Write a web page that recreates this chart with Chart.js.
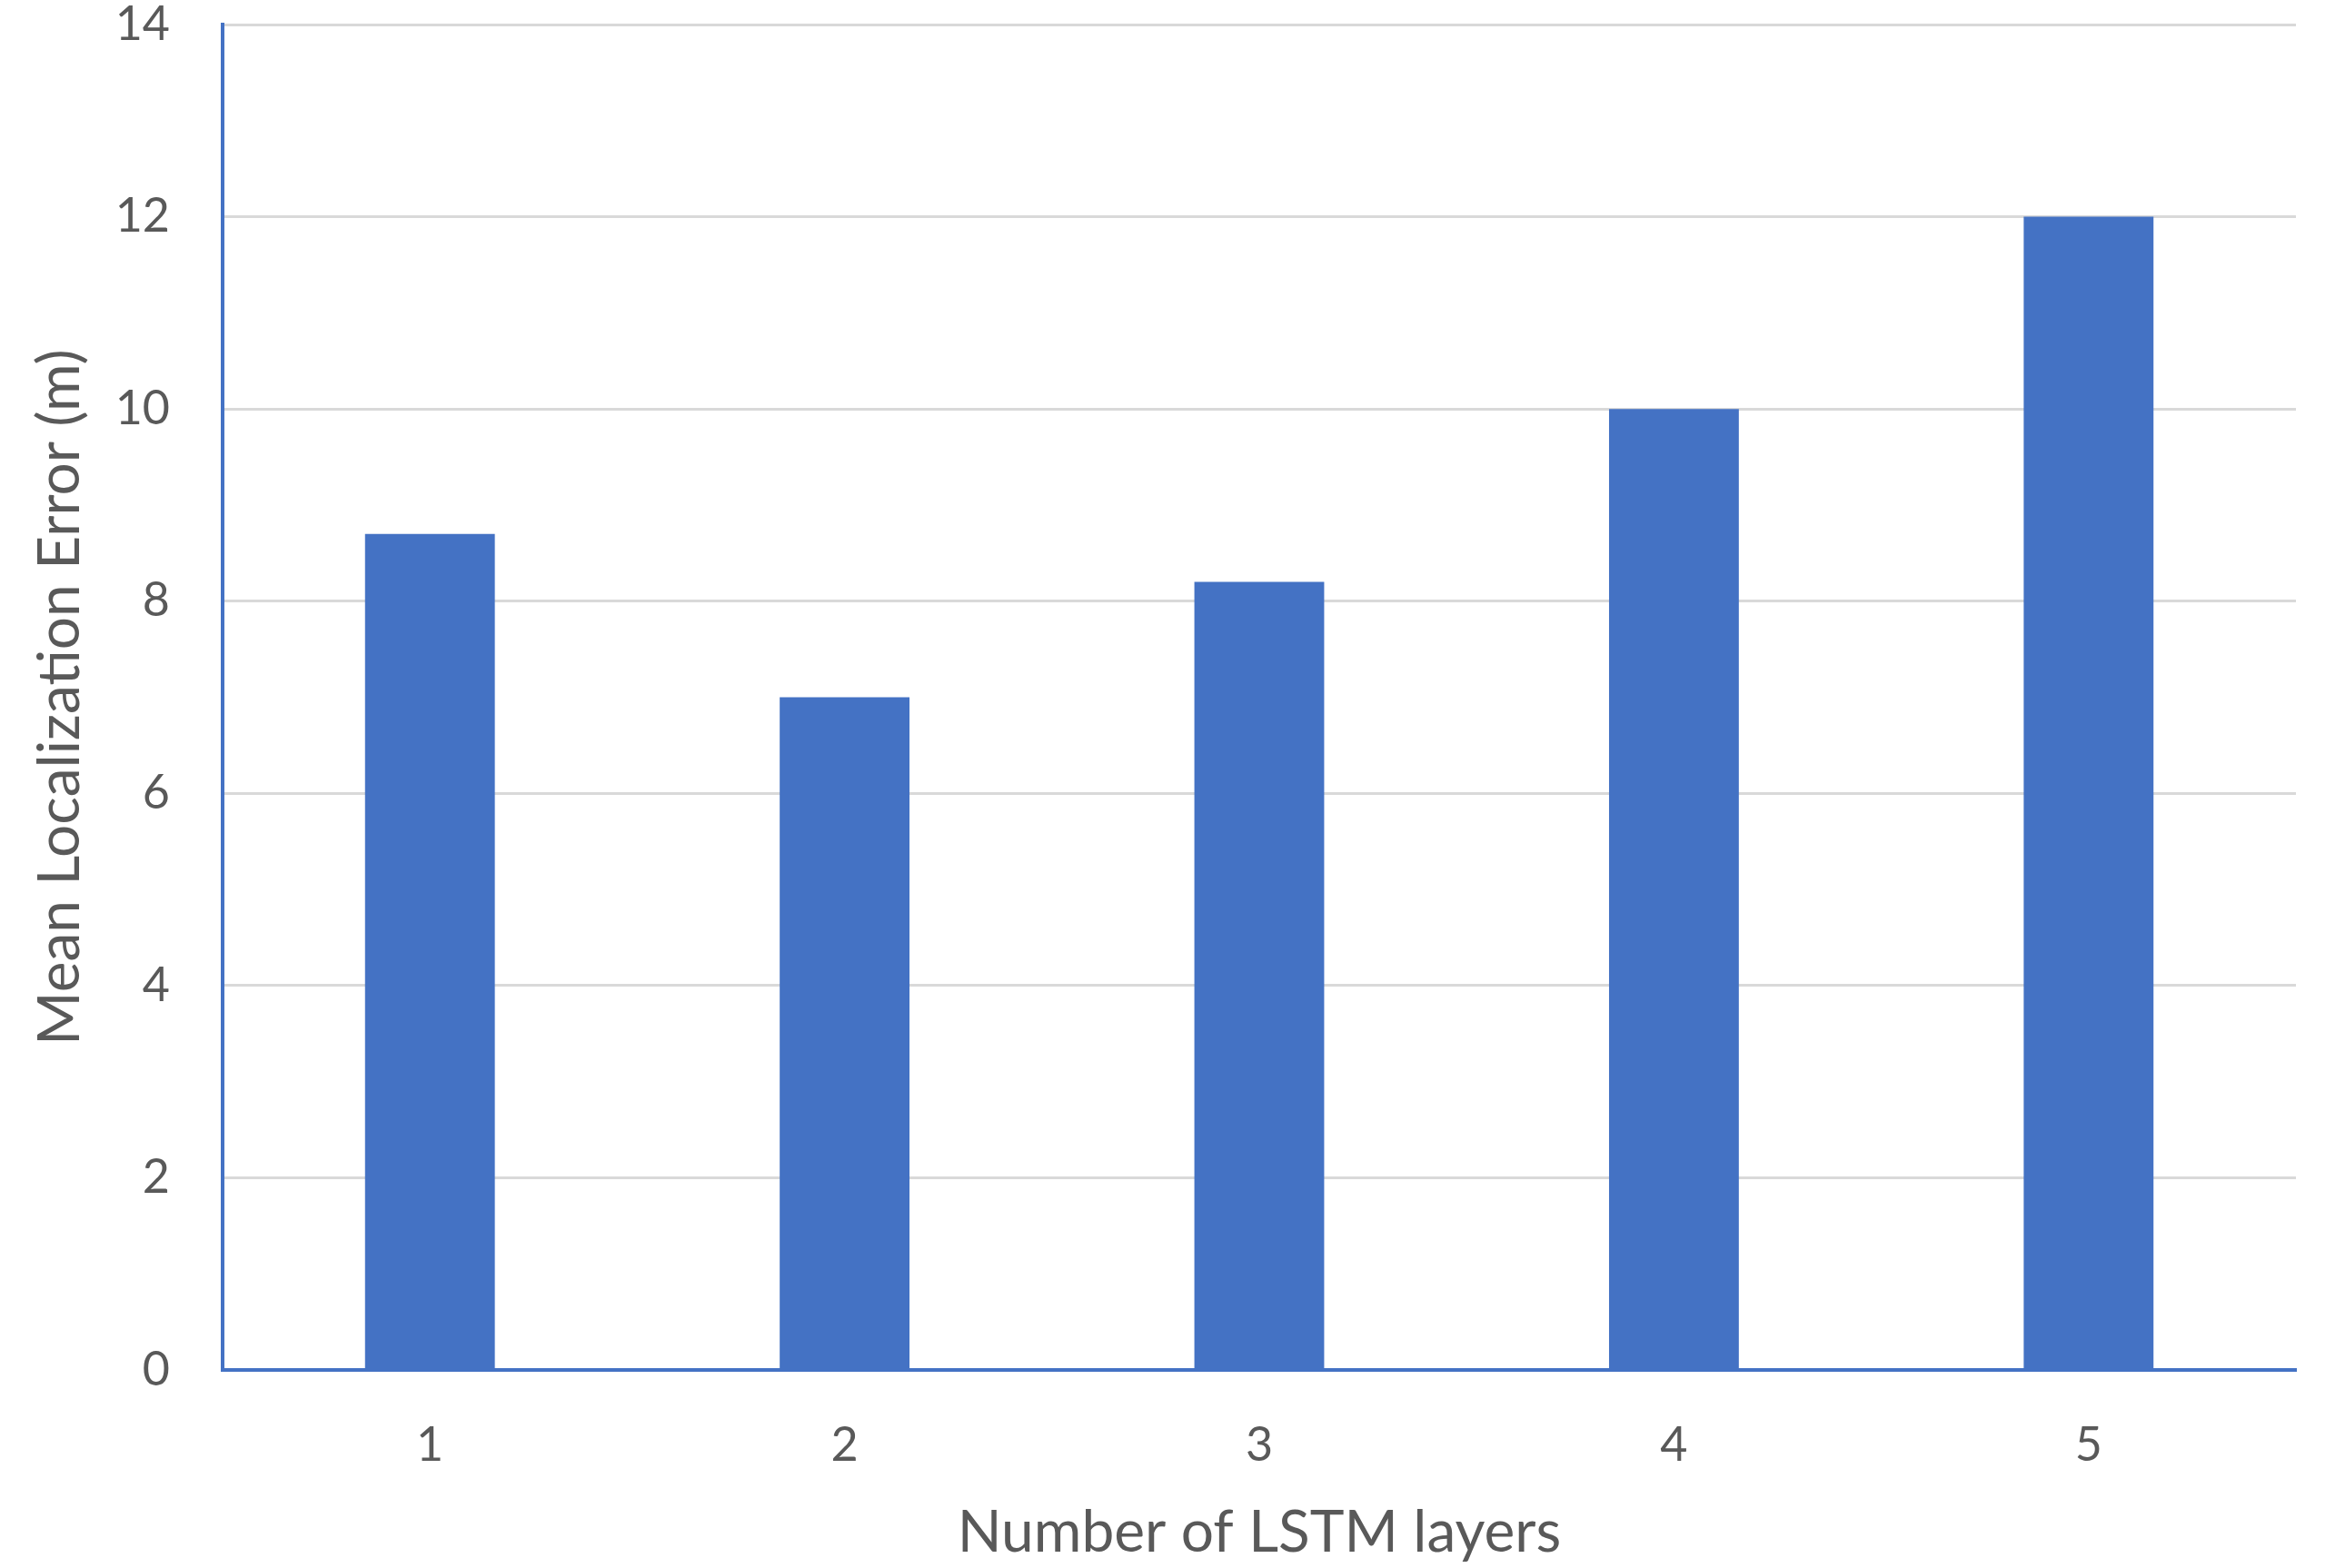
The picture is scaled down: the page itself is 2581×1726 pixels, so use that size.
<!DOCTYPE html>
<html>
<head>
<meta charset="utf-8">
<script src="https://cdn.jsdelivr.net/npm/chart.js@4.4.1/dist/chart.umd.min.js"></script>
<style>
  html, body { margin: 0; padding: 0; background: #ffffff; }
  #wrap { width: 2581px; height: 1726px; position: relative; }
</style>
</head>
<body>
<div id="wrap"><canvas id="c" width="2581" height="1726"></canvas></div>
<script>
const categories = ['1', '2', '3', '4', '5'];
const errorValues = [8.7, 7.0, 8.2, 10.0, 12.0];
const yTicks = [0, 2, 4, 6, 8, 10, 12, 14];
const xTitle = 'Number of LSTM layers';
const yTitle = 'Mean Localization Error (m)';

const FONT = "Lato, 'Open Sans', sans-serif";
const TEXT = '#595959';
const BLUE = '#4472C4';

new Chart(document.getElementById('c'), {
  type: 'bar',
  data: {
    labels: categories,
    datasets: [{
      data: errorValues,
      backgroundColor: BLUE,
      borderWidth: 0,
      categoryPercentage: 1.0,
      barPercentage: 0.313
    }]
  },
  options: {
    responsive: false,
    animation: false,
    devicePixelRatio: 1,
    layout: { padding: { top: 27, right: 54, left: 0, bottom: 0 } },
    plugins: { legend: { display: false }, tooltip: { enabled: false } },
    scales: {
      x: {
        grid: { display: false, drawTicks: false },
        border: { display: true, color: BLUE, width: 4 },
        ticks: { color: TEXT, font: { family: FONT, size: 52 }, padding: 52 },
        title: { display: true, text: xTitle, color: TEXT, font: { family: FONT, size: 64 }, padding: { top: 0, bottom: 0 } },
        afterFit: s => { s.height = 218; s.paddingLeft = 0; s.paddingRight = 0; }
      },
      y: {
        min: 0, max: 14,
        afterBuildTicks: s => { s.ticks = yTicks.map(v => ({ value: v })); },
        grid: { color: '#d9d9d9', lineWidth: 3, drawTicks: false },
        border: { display: true, color: BLUE, width: 4 },
        ticks: { color: TEXT, font: { family: FONT, size: 52 }, padding: 58 },
        title: { display: true, text: yTitle, color: TEXT, font: { family: FONT, size: 64 }, padding: { top: 28, bottom: 0 } },
        afterFit: s => { s.width = 245; s.paddingTop = 0; s.paddingBottom = 0; }
      }
    }
  }
});
</script>
</body>
</html>
